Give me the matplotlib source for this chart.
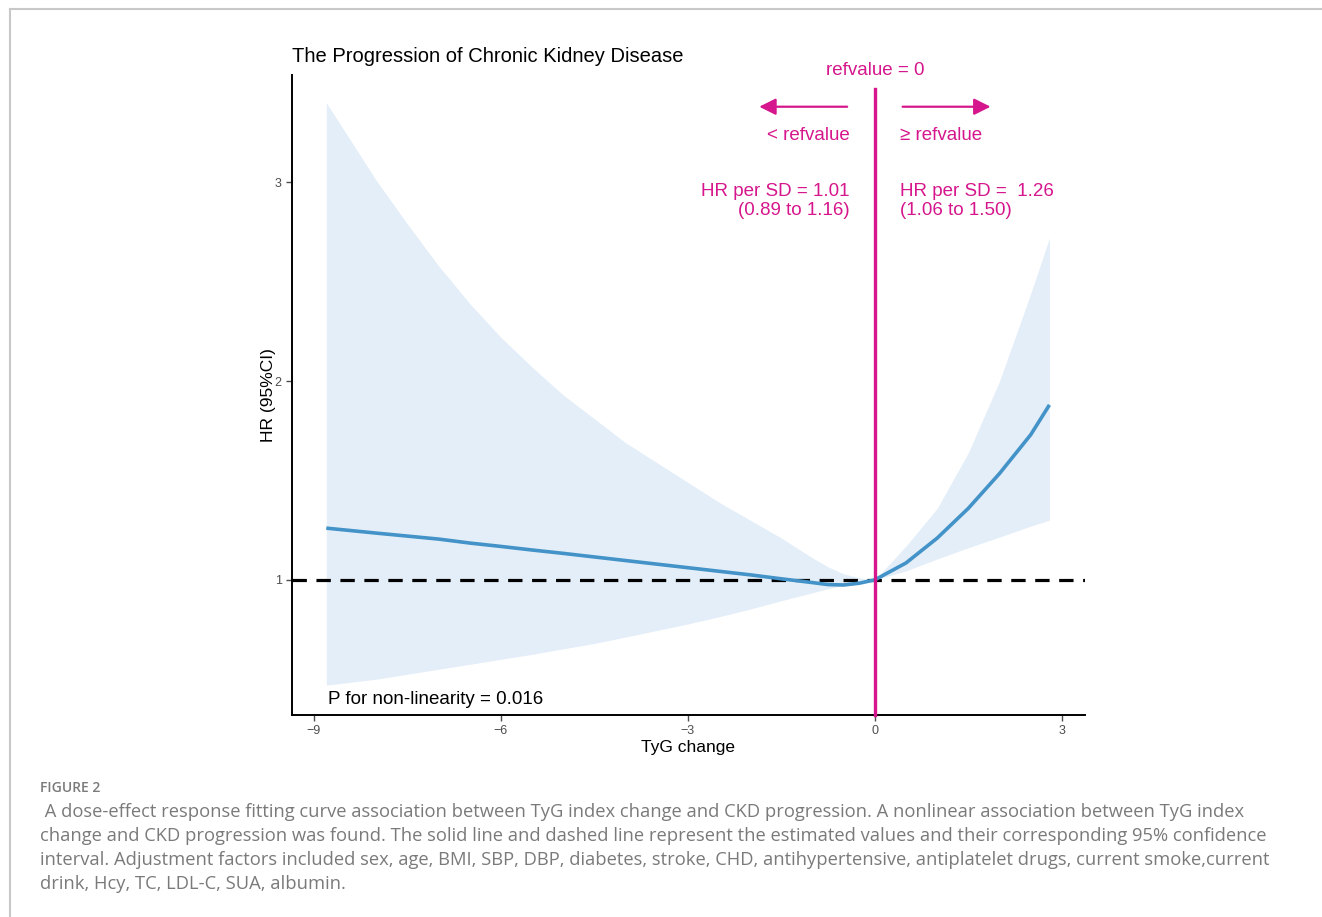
import matplotlib
matplotlib.use('Agg')
import matplotlib.pyplot as plt
from matplotlib.lines import Line2D

plt.rcParams['font.family'] = ['Liberation Sans', 'DejaVu Sans']

# TyG change grid and curve
tyg = [-8.8, -8.0, -7.5, -7.0, -6.5, -6.0, -5.5, -5.0, -4.5, -4.0, -3.5, -3.0,
       -2.5, -2.0, -1.5, -1.0, -0.75, -0.5, -0.25, 0.0, 0.5, 1.0, 1.5, 2.0, 2.5, 2.8]
hr = [1.26, 1.235, 1.22, 1.205, 1.185, 1.168, 1.15, 1.133, 1.115, 1.097, 1.079, 1.061,
      1.043, 1.025, 1.005, 0.986, 0.976, 0.974, 0.983, 1.0, 1.085, 1.21, 1.36, 1.535, 1.73, 1.88]
hr_upper = [3.40, 3.01, 2.79, 2.58, 2.39, 2.22, 2.07, 1.93, 1.81, 1.69, 1.59, 1.49,
            1.39, 1.30, 1.21, 1.11, 1.065, 1.03, 1.01, 1.0, 1.17, 1.36, 1.64, 2.00, 2.44, 2.72]
hr_lower = [0.47, 0.50, 0.525, 0.55, 0.575, 0.60, 0.625, 0.653, 0.68, 0.712, 0.745, 0.778,
            0.814, 0.853, 0.895, 0.935, 0.955, 0.972, 0.987, 1.0, 1.045, 1.105, 1.162, 1.215, 1.27, 1.30]

xticks = [-9, -6, -3, 0, 3]
yticks = [1, 2, 3]

pink = '#D6168C'
grey_txt = '#4D4D4D'

fig = plt.figure(figsize=(13.22, 9.17), dpi=100)

# thin frame of the page
fig.add_artist(Line2D([10/1322, 10/1322], [0, 1 - 9/917], color='#C8C8C8', lw=1.5))
fig.add_artist(Line2D([10/1322, 1], [1 - 9/917, 1 - 9/917], color='#C8C8C8', lw=1.5))

ax = fig.add_axes([0.2209, 0.2203, 0.5998, 0.698])

ax.fill_between(tyg, hr_lower, hr_upper, color='#E4EEF8', lw=0, zorder=1)
ax.axhline(1, color='black', lw=2.3, linestyle=(0, (4.5, 3)), zorder=2)
ax.plot(tyg, hr, color='#4393C8', lw=2.6, zorder=3, solid_capstyle='butt')
ax.plot([0, 0], [0.32, 3.47], color=pink, lw=2.4, zorder=4, clip_on=False)

ax.set_xlim(-9.35, 3.37)
ax.set_ylim(0.32, 3.54)
ax.set_xticks(xticks)
ax.set_xticklabels(['\u22129', '\u22126', '\u22123', '0', '3'])
ax.set_yticks(yticks)
ax.tick_params(colors=grey_txt, labelsize=9, length=4, width=1, labelcolor=grey_txt)
for s in ['top', 'right']:
    ax.spines[s].set_visible(False)
for s in ['left', 'bottom']:
    ax.spines[s].set_linewidth(1.4)

ax.set_xlabel('TyG change', fontsize=12.5, labelpad=2)
ax.set_ylabel('HR (95%CI)', fontsize=12.5, labelpad=-1)
ax.set_title('The Progression of Chronic Kidney Disease', loc='left', fontsize=14.5, pad=9, x=0.0)

# annotations
ax.text(0, 3.563, 'refvalue = 0', color=pink, fontsize=13.5, ha='center', va='center', clip_on=False)
ax.annotate('', xy=(-1.9, 3.38), xytext=(-0.4, 3.38),
            arrowprops=dict(arrowstyle='-|>,head_length=1.0,head_width=0.5', color=pink, lw=1.6))
ax.annotate('', xy=(1.9, 3.38), xytext=(0.4, 3.38),
            arrowprops=dict(arrowstyle='-|>,head_length=1.0,head_width=0.5', color=pink, lw=1.6))
ax.text(-0.4, 3.236, '< refvalue', color=pink, fontsize=13.5, ha='right', va='center')
ax.text(0.4, 3.236, '\u2265 refvalue', color=pink, fontsize=13.5, ha='left', va='center')
ax.text(-0.4, 2.905, 'HR per SD = 1.01\n(0.89 to 1.16)', color=pink, fontsize=13.5,
        ha='right', va='center', multialignment='right', linespacing=1.1)
ax.text(0.4, 2.905, 'HR per SD =  1.26\n(1.06 to 1.50)', color=pink, fontsize=13.5,
        ha='left', va='center', multialignment='left', linespacing=1.1)
ax.text(-8.78, 0.397, 'P for non-linearity = 0.016', color='black', fontsize=13.5, ha='left', va='center')

# caption
fig.text(40/1322, 1 - 788/917, 'FIGURE 2', fontsize=10, color='#7A7A7A', family='Open Sans',
         fontweight='semibold', va='center')
caption = [' A dose-effect response fitting curve association between TyG index change and CKD progression. A nonlinear association between TyG index',
           'change and CKD progression was found. The solid line and dashed line represent the estimated values and their corresponding 95% confidence',
           'interval. Adjustment factors included sex, age, BMI, SBP, DBP, diabetes, stroke, CHD, antihypertensive, antiplatelet drugs, current smoke,current',
           'drink, Hcy, TC, LDL-C, SUA, albumin.']
for i, line in enumerate(caption):
    fig.text(40/1322, 1 - (812 + 24*i)/917, line, fontsize=13.25, color='#7A7A7A', family='Open Sans', va='center')

plt.savefig('out.png', dpi=100)
